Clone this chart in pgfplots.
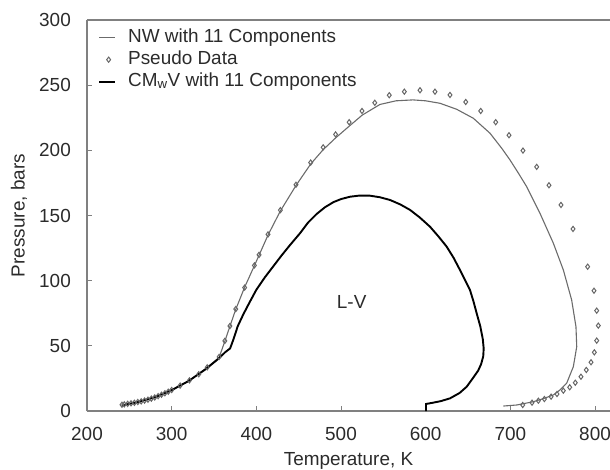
\documentclass[border=0pt]{standalone}
\usepackage{fontspec}
\setmainfont{Liberation Sans}
\usepackage{pgfplots}
\pgfplotsset{compat=1.18}
\definecolor{axgray}{gray}{0.5}
\definecolor{nwgray}{gray}{0.42}
\definecolor{mkgray}{gray}{0.4}
\definecolor{txt}{gray}{0.17}
\pgfplotsset{
  lineleg/.style={legend image code/.code={\path[draw=none,fill=none] (0bp,0bp) -- (28bp,0bp); \draw[##1] (0bp,0bp) -- (16bp,0bp);}},
  markleg/.style={legend image code/.code={\path[draw=none,fill=none] (0bp,0bp) -- (28bp,0bp); \draw[##1] plot coordinates {(9.5bp,0bp)};}},
}
\begin{document}
\begin{tikzpicture}
\begin{axis}[
  scale only axis, width=523bp, height=391bp,
  xmin=200, xmax=817.7, ymin=0, ymax=300,
  axis x line=box, axis y line=left,
  axis line style={-, draw=axgray, line width=1.2bp},
  xtick={200,300,...,800}, ytick={0,50,...,300},
  xtick pos=bottom, ytick pos=left, tick align=inside,
  major tick length=5bp,
  tick style={draw=axgray, line width=0.8bp},
  /pgf/number format/assume math mode=true,
  tick label style={font=\fontsize{19}{22}\selectfont, text=txt, inner sep=0pt},
  xticklabel style={anchor=north, yshift=-16bp},
  yticklabel style={anchor=east, xshift=-16bp},
  xlabel={Temperature, K},
  ylabel={Pressure, bars},
  every axis x label/.style={at={(axis description cs:0.5,0)}, anchor=base, yshift=-54bp,
    font=\fontsize{19}{22}\selectfont, text=txt, inner sep=0pt},
  every axis y label/.style={at={(axis description cs:0,0.5)}, xshift=-68bp, rotate=90, anchor=center,
    font=\fontsize{19}{22}\selectfont, text=txt, inner sep=0pt},
  legend style={at={(axis description cs:0,1)}, anchor=north west, xshift=8bp, yshift=-6bp,
    draw=none, fill=none, font=\fontsize{19}{22}\selectfont, text=txt, row sep=3bp,
    nodes={inner sep=1bp, text height=13bp, text depth=4bp}},
  legend cell align=left,
]
\addplot[nwgray, line width=1.1bp, lineleg] coordinates {
(241,4.5) (260,6.8) (280,10.5) (300,16) (320,23) (340,32.5) (356,41)
(362.8,53.5) (368.8,65) (375.7,78) (386.2,95) (397.7,111.5) (413.8,135)
(428.4,153.5) (446.8,173) (464.2,189.5) (478.9,200.5) (493.6,209.5)
(509.6,218.5) (525,227) (546,235.2) (565,238) (585,238.7) (600,238)
(616.9,236.1) (636.6,231.5) (656.3,224.6) (676,213.1) (689.8,201.6)
(699.6,192.6) (709.5,182.5) (719.3,172.1) (735,151.7) (750.8,128.7)
(762.6,108.2) (772.4,85.2) (777.5,64.7) (778.4,49.3) (774.4,34)
(766.5,21.3) (758,15.8) (750.7,12.3) (739,9.5) (727.1,7.1) (707.5,4.6)
(691.7,3.8)
};
\addlegendentry{NW with 11 Components}
\addplot[only marks, mark=diamond, mark size=2.6bp, draw=mkgray,
  mark options={line width=1bp, fill=white}, markleg] coordinates {
(241.3,4.8) (244,5.1) (248,5.5) (252,5.9) (256,6.3) (260,6.9) (264,7.4)
(268,8.0) (272,8.7) (276,9.5) (280,10.4) (284,11.4) (288,12.5) (292,13.6)
(296,14.8) (300,16.1) (310,19.5) (321,23.5) (332,28.2) (342,33.5)
(356,41.5) (362.8,53.8) (368.8,65.2) (375.7,78.2) (386.2,94.7)
(397.7,111.7) (403.2,119.8) (413.8,135.5) (428.4,154.1) (446.8,173.6)
(464.2,190.6) (478.9,202.3) (493.6,212.2) (509.6,221.6) (524.8,230.2)
(539.9,236.5) (557,242.3) (574.8,245) (593.3,246.1) (611,245) (628.7,242.5)
(647.3,237.1) (665,230.2) (682.7,221.6) (698.4,211.6) (714.9,199.8)
(731.1,187.3) (745.6,173.2) (759.8,158.1) (774,139.7) (791.3,110.7)
(798.8,92.3) (802,77) (803.9,65.5) (802,54) (799.2,45) (795.3,37.4)
(789.7,31.5) (783.4,26.3) (776.7,21.7) (770.1,18.2) (762.6,15.6)
(755.1,13) (748.1,11) (740.2,9.2) (733.1,7.9) (725.6,6.4) (714.6,4.6)
};
\addlegendentry{Pseudo Data}
\addplot[black, line width=1.9bp, lineleg] coordinates {
(241,4.3) (260,6.8) (280,10.5) (300,16) (320,23) (340,32) (356,40.5)
(363,45) (369,48) (373,55) (378,65) (384.5,74) (391.7,83) (400,93)
(410,102.5) (420,111) (430,119.5) (440,127.5) (451.6,136.4) (461,144.5)
(471.3,151.2) (481,156.3) (490.9,160.2) (500,162.6) (510.6,164.4)
(522,165.3) (534.2,165.2) (546,164) (557.9,161.9) (570,158.5)
(581.5,154.3) (593,148.5) (605.1,141.4) (615,134) (624.8,126.1)
(633,117.5) (640.5,108.2) (646.5,100.5) (652.3,92.9) (656.5,84)
(660.2,75) (664.5,65) (667.5,55) (668.5,48) (668,42) (665.5,36)
(662,31) (655,24.5) (648.4,18.6) (640,13.8) (628.7,9.7) (618,7.6)
(609,6.4) (600.4,5.4) (600.4,0)
};
\addlegendentry{CM\textsubscript{w}V with 11 Components}
\node[font=\fontsize{19}{22}\selectfont, text=txt] at (axis cs:512.6,83.6) {L-V};
\end{axis}
\pgfresetboundingbox
\path[use as bounding box] (-87bp,-59bp) rectangle (523bp,411bp);
\end{tikzpicture}
\end{document}
